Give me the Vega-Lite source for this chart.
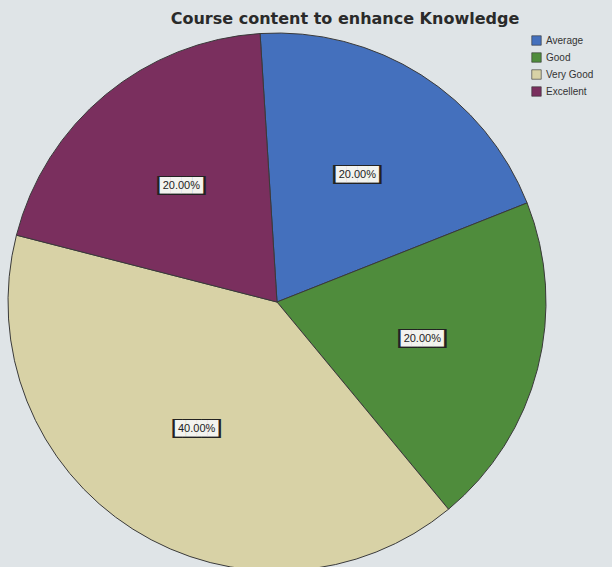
{
  "$schema": "https://vega.github.io/schema/vega-lite/v6.json",
  "autosize": "none",
  "width": 554,
  "height": 538,
  "padding": {"left": 0, "top": 33, "right": 58, "bottom": 0},
  "background": "#dfe4e7",
  "config": {"view": {"stroke": null}},
  "title": {
    "text": "Course content to enhance Knowledge",
    "font": "DejaVu Sans",
    "fontSize": 16,
    "fontWeight": "bold",
    "color": "#2a2a2a",
    "anchor": "middle",
    "dx": 68,
    "offset": 4
  },
  "data": {
    "values": [
      {"category": "Average", "order": 1, "percent": 20, "label": "20.00%"},
      {"category": "Good", "order": 2, "percent": 20, "label": "20.00%"},
      {"category": "Very Good", "order": 3, "percent": 40, "label": "40.00%"},
      {"category": "Excellent", "order": 4, "percent": 20, "label": "20.00%"}
    ]
  },
  "encoding": {
    "theta": {"field": "percent", "type": "quantitative", "stack": true, "scale": {"range": [-0.063, 6.2202]}},
    "order": {"field": "order", "type": "quantitative"}
  },
  "layer": [
    {
      "mark": {"type": "arc", "outerRadius": 269, "stroke": "#3a3a3a", "strokeWidth": 1},
      "encoding": {
        "color": {
          "field": "category",
          "type": "nominal",
          "sort": ["Average", "Good", "Very Good", "Excellent"],
          "scale": {"domain": ["Average", "Good", "Very Good", "Excellent"], "range": ["#4470bd", "#4f8c3c", "#d8d2a6", "#7a2f5e"]},
          "legend": {
            "title": null,
            "orient": "none",
            "legendX": 531,
            "legendY": 2,
            "symbolType": "square",
            "symbolSize": 90,
            "symbolStrokeColor": "#333",
            "symbolStrokeWidth": 0.6,
            "labelFont": "Liberation Sans",
            "labelFontSize": 10,
            "labelColor": "#333",
            "rowPadding": 4,
            "labelOffset": 4
          }
        }
      }
    },
    {
      "mark": {"type": "text", "radius": 150, "text": "█████", "font": "DejaVu Sans Mono", "fontSize": 16, "color": "#222"}
    },
    {
      "mark": {"type": "text", "radius": 150, "text": "████", "font": "DejaVu Sans", "fontSize": 14, "color": "#f3f3ef"}
    },
    {
      "mark": {"type": "text", "radius": 150, "font": "Liberation Sans", "fontSize": 11, "color": "#222"},
      "encoding": {"text": {"field": "label", "type": "nominal"}}
    }
  ]
}
